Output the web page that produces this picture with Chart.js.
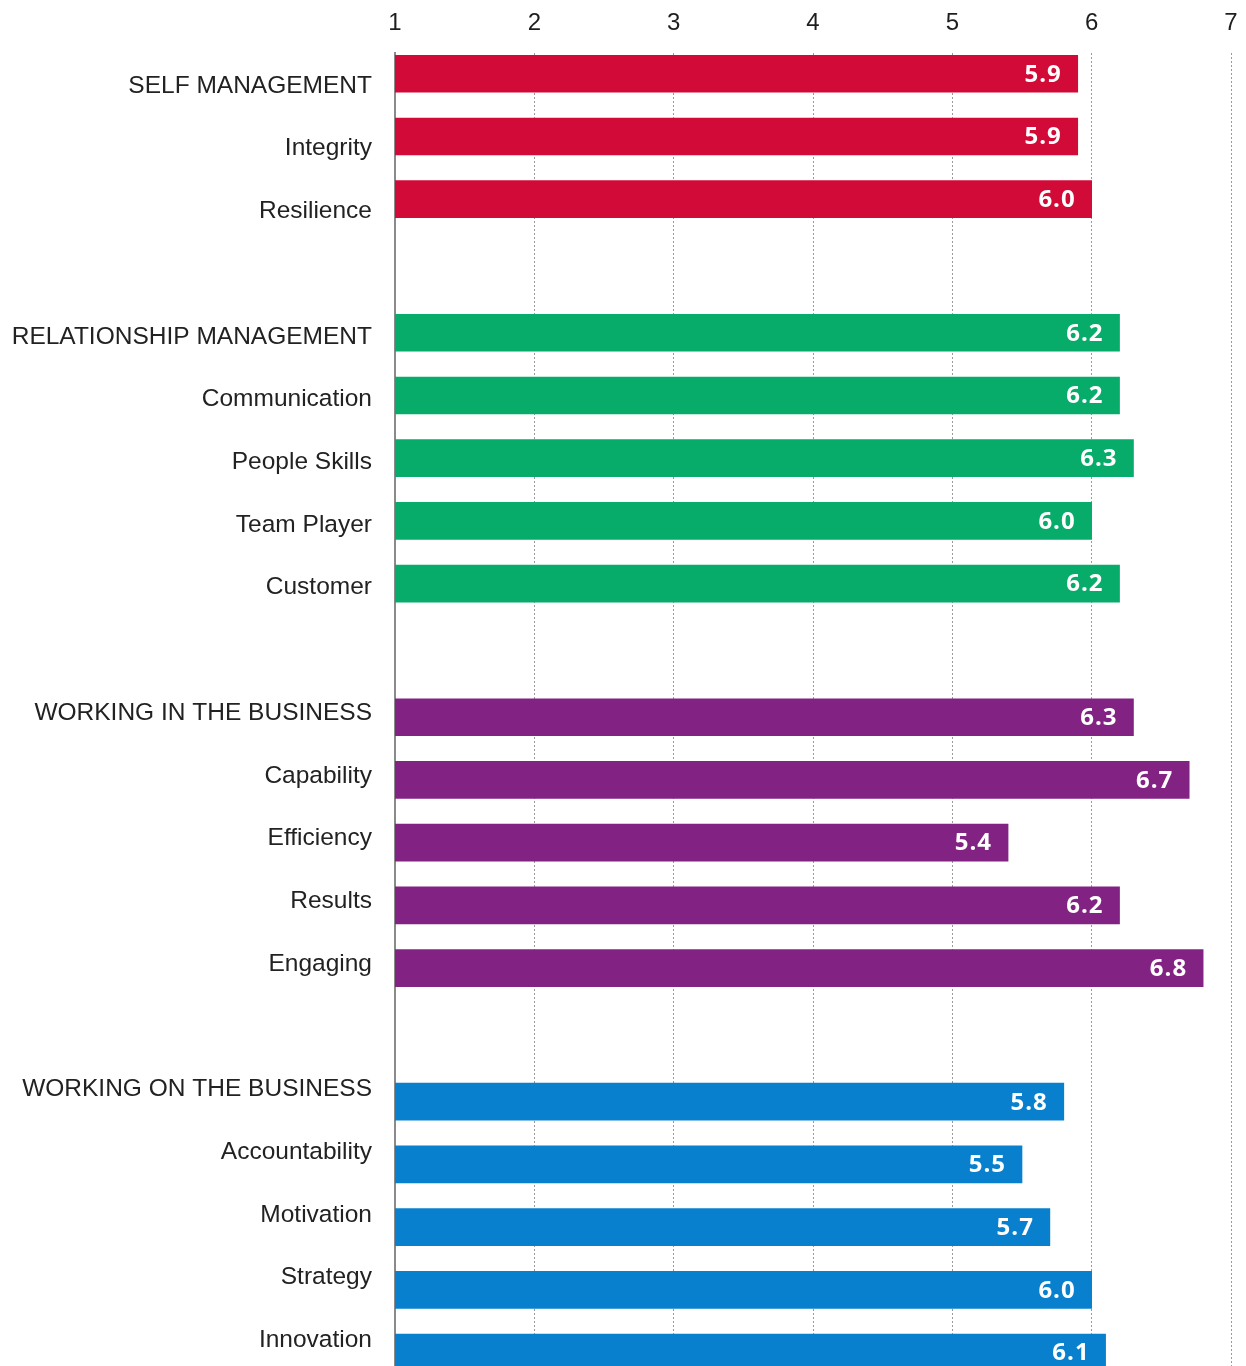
<!DOCTYPE html>
<html>
<head>
<meta charset="utf-8">
<title>Competency scores</title>
<script src="https://cdn.jsdelivr.net/npm/chart.js@4.4.1/dist/chart.umd.min.js"></script>
<style>
  html, body { margin: 0; padding: 0; background: #ffffff; overflow: hidden; }
  #wrap { width: 1246px; height: 1366px; }
</style>
</head>
<body>
<div id="wrap"><canvas id="scores" width="1246" height="1366"></canvas></div>
<script>
// Competency names, top to bottom (group headings included as their own rows)
const categories = [
  'SELF MANAGEMENT', 'Integrity', 'Resilience',
  'RELATIONSHIP MANAGEMENT', 'Communication', 'People Skills', 'Team Player', 'Customer',
  'WORKING IN THE BUSINESS', 'Capability', 'Efficiency', 'Results', 'Engaging',
  'WORKING ON THE BUSINESS', 'Accountability', 'Motivation', 'Strategy', 'Innovation'
];
// Which group each row belongs to
const groups = [0, 0, 0, 1, 1, 1, 1, 1, 2, 2, 2, 2, 2, 3, 3, 3, 3, 3];
// Average score per row (scale 1 - 7)
const scores = [5.9, 5.9, 6.0, 6.2, 6.2, 6.3, 6.0, 6.2, 6.3, 6.7, 5.4, 6.2, 6.8, 5.8, 5.5, 5.7, 6.0, 6.1];
// Group colours
const groupColors = ['#D20A37', '#07AB6A', '#822384', '#0880CE'];
// Score axis
const scoreMin = 1;
const scoreMax = 7;

// Label rows leave one empty row between groups; bars sit slightly further apart per group
const labelRows = categories.map((_, i) => i + groups[i]);
const barRows = labelRows.map((r, i) => r + (groups[i] - 1.5) * 0.13);

const valueLabels = {
  id: 'valueLabels',
  afterDatasetsDraw(chart) {
    const ctx = chart.ctx;
    const meta = chart.getDatasetMeta(0);
    ctx.save();
    ctx.font = 'bold 24px "Open Sans", "DejaVu Sans", sans-serif';
    ctx.fillStyle = '#ffffff';
    ctx.textAlign = 'right';
    ctx.textBaseline = 'middle';
    if ('letterSpacing' in ctx) ctx.letterSpacing = '1px';
    meta.data.forEach((bar, i) => {
      ctx.fillText(scores[i].toFixed(1), bar.x - 16, bar.y + 1);
    });
    ctx.restore();
  }
};

new Chart(document.getElementById('scores'), {
  type: 'bar',
  data: {
    datasets: [{
      data: scores.map((v, i) => ({ x: v, y: barRows[i] })),
      backgroundColor: groups.map(g => groupColors[g]),
      borderWidth: 0,
      barThickness: 37
    }]
  },
  options: {
    indexAxis: 'y',
    responsive: false,
    animation: false,
    devicePixelRatio: 1,
    layout: { padding: { left: 0, right: 15, top: 0, bottom: 0 } },
    plugins: {
      legend: { display: false },
      tooltip: { enabled: false }
    },
    scales: {
      x: {
        type: 'linear',
        position: 'top',
        min: scoreMin,
        max: scoreMax,
        ticks: {
          stepSize: 1,
          color: '#1e1e1e',
          font: { family: '"Liberation Sans", Arial, sans-serif', size: 24 },
          padding: 15
        },
        grid: {
          color: '#9a9a9a',
          lineWidth: 1,
          drawTicks: false
        },
        border: { display: false, dash: [2, 2] },
        afterFit(scale) {
          scale.height = 53;
          scale.paddingLeft = 0;
          scale.paddingRight = 0;
        }
      },
      y: {
        type: 'linear',
        reverse: true,
        offset: false,
        min: -0.526,
        max: 20.41,
        afterBuildTicks(scale) {
          scale.ticks = labelRows.map(r => ({ value: r }));
        },
        afterFit(scale) {
          scale.width = 395;
          scale.paddingTop = 0;
          scale.paddingBottom = 0;
        },
        ticks: {
          autoSkip: false,
          color: '#222222',
          font: { family: '"Liberation Sans", Arial, sans-serif', size: 24.5 },
          padding: 23,
          callback: (value, index) => categories[index]
        },
        grid: { display: false, drawTicks: false },
        border: { display: true, color: '#8a8a8a', width: 2 },
        z: 1
      }
    }
  },
  plugins: [valueLabels]
});
</script>
</body>
</html>
